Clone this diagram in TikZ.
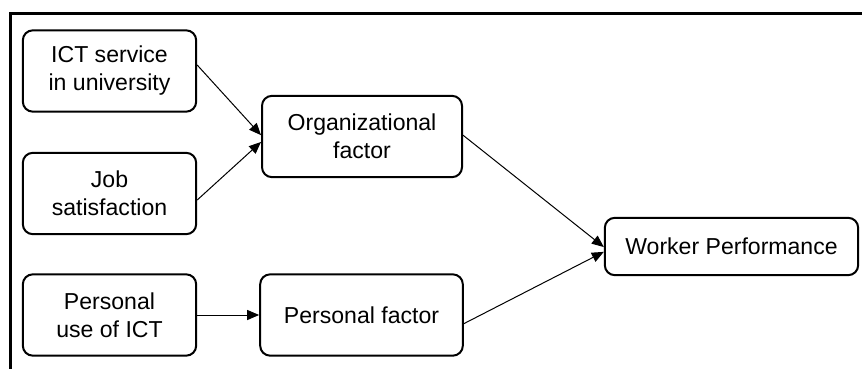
\documentclass[tikz,border=0pt]{standalone}
\usepackage{fontspec}
\setmainfont{Liberation Sans}
\usetikzlibrary{arrows.meta}
\begin{document}
\begin{tikzpicture}[x=0.75pt, y=-0.75pt,
		factorbox/.style={draw, line width=1.5pt, rounded corners=7.5pt, align=center, inner sep=0pt,
			font=\fontsize{17.3}{21}\selectfont, minimum height=61pt},
		link/.style={line width=0.75pt, -{Triangle[length=9pt, width=7.5pt]}}]
		\useasboundingbox (0,0) rectangle (862,368);
		\draw[line width=2.25pt] (10,369) -- (10,13.5) -- (863,13.5);
		\node (ict) at (109.5,71) [factorbox, minimum width=130pt] {ICT service\\in university};
		\node (job) at (109.5,193.5) [factorbox, minimum width=130pt] {Job\\satisfaction};
		\node (puse) at (109.5,315) [factorbox, minimum width=130pt] {Personal\\use of ICT};
		\node (org) at (362,136.5) [factorbox, minimum width=150pt] {Organizational\\factor};
		\node (pfac) at (361.5,315) [factorbox, minimum width=152pt] {Personal factor};
		\node (perf) at (731.5,246.5) [factorbox, minimum width=190pt, minimum height=43pt] {Worker Performance};
		\draw[link] ([yshift=4.5pt]ict.east) -- ([yshift=1pt]org.west);
		\draw[link] ([yshift=-4.9pt]job.east) -- ([yshift=-4.1pt]org.west);
		\draw[link] (puse.east) -- (pfac.west);
		\draw[link] ([yshift=1pt]org.east) -- ([yshift=-0.4pt]perf.west);
		\draw[link] ([yshift=-6.5pt]pfac.east) -- ([yshift=-4pt]perf.west);
	\end{tikzpicture}
\end{document}
